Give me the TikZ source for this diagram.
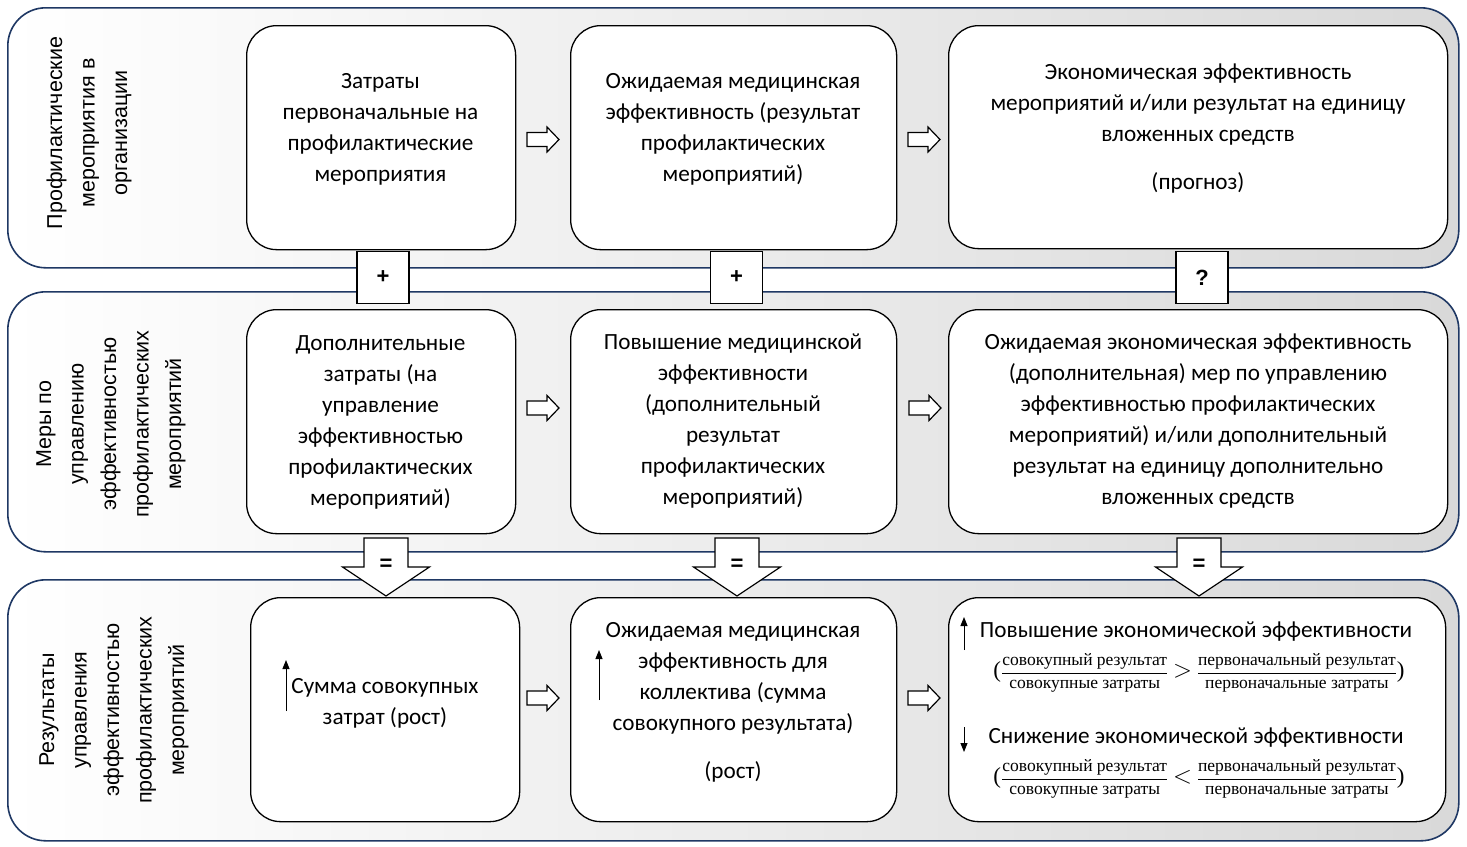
\documentclass[tikz,border=0pt]{standalone}
\usepackage{fontspec}
\setmainfont{Carlito}
\newfontfamily\labfont{Liberation Sans}
\newfontfamily\frfont{Liberation Serif}
\usetikzlibrary{arrows.meta}
\definecolor{bandline}{HTML}{1F3864}
\newcommand{\frt}[1]{\hbox{\frfont\fontsize{17.5}{17.5}\selectfont #1}}
\newcommand{\frn}[1]{\hbox{\frfont\fontsize{17.5}{17.5}\selectfont\rule[-6pt]{0pt}{6pt}#1}}
\newcommand{\frd}[1]{\hbox{\frfont\fontsize{17.5}{17.5}\selectfont\rule{0pt}{14.5pt}#1}}
\newcommand{\bigsym}[1]{\hbox{\fontsize{24}{24}\selectfont$#1$}}
\newcommand{\bigpar}[1]{\hbox{\frfont\fontsize{23}{23}\selectfont #1}}
\begin{document}
\begin{tikzpicture}[x=1pt,y=-1pt,
  band/.style={draw=bandline, line width=1.6pt, rounded corners=38pt, left color=white, right color=gray!30, anchor=north west, inner sep=0},
  box/.style={draw, line width=1.3pt, fill=white, rounded corners=30pt, anchor=north west, inner sep=0},
  txt/.style={align=center, font=\fontsize{23.2}{31}\selectfont, inner sep=0},
  lab/.style={align=center, font=\labfont\fontsize{21.5}{32.5}\selectfont, inner sep=0, rotate=90},
  sq/.style={draw, fill=white, line width=1.3pt, minimum size=52pt, inner sep=0, font=\labfont\bfseries\fontsize{22}{22}\selectfont},
  thinarr/.style={line width=1pt, -{Triangle[length=9pt,width=7pt]}},
  fr/.style={inner sep=0, font=\fontsize{18.5}{18.5}\selectfont},
  rarr/.pic={\draw[fill=white, line width=1.2pt, line join=miter] (-16,-7) -- (4,-7) -- (4,-12.5) -- (16,0) -- (4,12.5) -- (4,7) -- (-16,7) -- cycle;},
  darr/.pic={\draw[fill=white, line width=1.2pt, line join=miter] (-22,0) -- (22,0) -- (22,29) -- (43.5,29) -- (0,58) -- (-43.5,29) -- (-22,29) -- cycle;
    \node[font=\labfont\bfseries\fontsize{22}{22}\selectfont, inner sep=0] (eq) at (0,27) {=};}
]
\useasboundingbox (0,0) rectangle (1467,846);

% bands
\node[band, minimum width=1451pt, minimum height=260pt] (band1) at (7,7) {};
\node[band, minimum width=1451pt, minimum height=260pt] (band2) at (7,291) {};
\node[band, minimum width=1451pt, minimum height=261pt] (band3) at (7,579) {};

% band labels
\node[lab] (l1) at (89,133) {Профилактические\\мероприятия в\\организации};
\node[lab] (l2) at (111,424) {Меры по\\управлению\\эффективностью\\профилактических\\мероприятий};
\node[lab] (l3) at (114,710) {Результаты\\управления\\эффективностью\\профилактических\\мероприятий};

% row 1 boxes
\node[box, minimum width=269pt, minimum height=224pt] (a1) at (246,25) {};
\node[box, minimum width=326pt, minimum height=224pt] (b1) at (570,25) {};
\node[box, minimum width=499pt, minimum height=223pt] (c1) at (948,25) {};
% row 2 boxes
\node[box, minimum width=269pt, minimum height=224pt] (a2) at (246,309) {};
\node[box, minimum width=326pt, minimum height=224pt] (b2) at (570,309) {};
\node[box, minimum width=499pt, minimum height=224pt] (c2) at (948,309) {};
% row 3 boxes
\node[box, minimum width=269pt, minimum height=224pt] (a3) at (250,597) {};
\node[box, minimum width=326pt, minimum height=224pt] (b3) at (570,597) {};
\node[box, minimum width=497pt, minimum height=224pt] (c3) at (948,597) {};

% texts row 1
\node[txt] (ta1) at (380.5,129) {Затраты\\первоначальные на\\профилактические\\мероприятия};
\node[txt] (tb1) at (733,129) {Ожидаемая медицинская\\эффективность (результат\\профилактических\\мероприятий)};
\node[txt] (tc1) at (1198,129) {Экономическая эффективность\\мероприятий и/или результат на единицу\\вложенных средств\\[17pt](прогноз)};
% texts row 2
\node[txt] (ta2) at (380.5,422.5) {Дополнительные\\затраты (на\\управление\\эффективностью\\профилактических\\мероприятий)};
\node[txt] (tb2) at (733,421.5) {Повышение медицинской\\эффективности\\(дополнительный\\результат\\профилактических\\мероприятий)};
\node[txt] (tc2) at (1198,421) {Ожидаемая экономическая эффективность\\(дополнительная) мер по управлению\\эффективностью профилактических\\мероприятий) и/или дополнительный\\результат на единицу дополнительно\\вложенных средств};
% texts row 3
\node[txt] (ta3) at (385,703) {Сумма совокупных\\затрат (рост)};
\node[txt] (tb3) at (733,702) {Ожидаемая медицинская\\эффективность для\\коллектива (сумма\\совокупного результата)\\[17pt](рост)};
\node[txt] (tc3a) at (1196,632) {Повышение экономической эффективности};
\node[fr] (fc3a) at (1199,673) {$\displaystyle\bigpar{(}\frac{\frn{совокупный результат}}{\frd{совокупные затраты}}\mathrel{\bigsym{>}}\frac{\frn{первоначальный результат}}{\frd{первоначальные затраты}}\bigpar{)}$};
\node[txt] (tc3b) at (1196,738) {Снижение экономической эффективности};
\node[fr] (fc3b) at (1199,779) {$\displaystyle\bigpar{(}\frac{\frn{совокупный результат}}{\frd{совокупные затраты}}\mathrel{\bigsym{<}}\frac{\frn{первоначальный результат}}{\frd{первоначальные затраты}}\bigpar{)}$};

% small up/down arrows
\coordinate (ua1) at (286,711); \coordinate (ua2) at (286,660);
\coordinate (ub1) at (599,700); \coordinate (ub2) at (599,650);
\coordinate (uc1) at (964,650); \coordinate (uc2) at (964,617);
\coordinate (dc1) at (964,727); \coordinate (dc2) at (964,752);
\draw[thinarr] (ua1) -- (ua2);
\draw[thinarr] (ub1) -- (ub2);
\draw[thinarr] (uc1) -- (uc2);
\draw[thinarr] (dc1) -- (dc2);

% right block arrows
\pic at (543,139.5) {rarr};
\pic at (924,139.5) {rarr};
\pic at (543,408) {rarr};
\pic at (925,408) {rarr};
\pic at (543,698) {rarr};
\pic at (924,698) {rarr};

% connector squares
\node[sq] (p1) at (383,277.5) {+};
\node[sq] (p2) at (736.5,277.5) {+};
\node[sq] (p3) at (1202,277.5) {?};

% down arrows
\pic at (386,538) {darr};
\pic at (737,538) {darr};
\pic at (1199,538) {darr};
\end{tikzpicture}
\end{document}
